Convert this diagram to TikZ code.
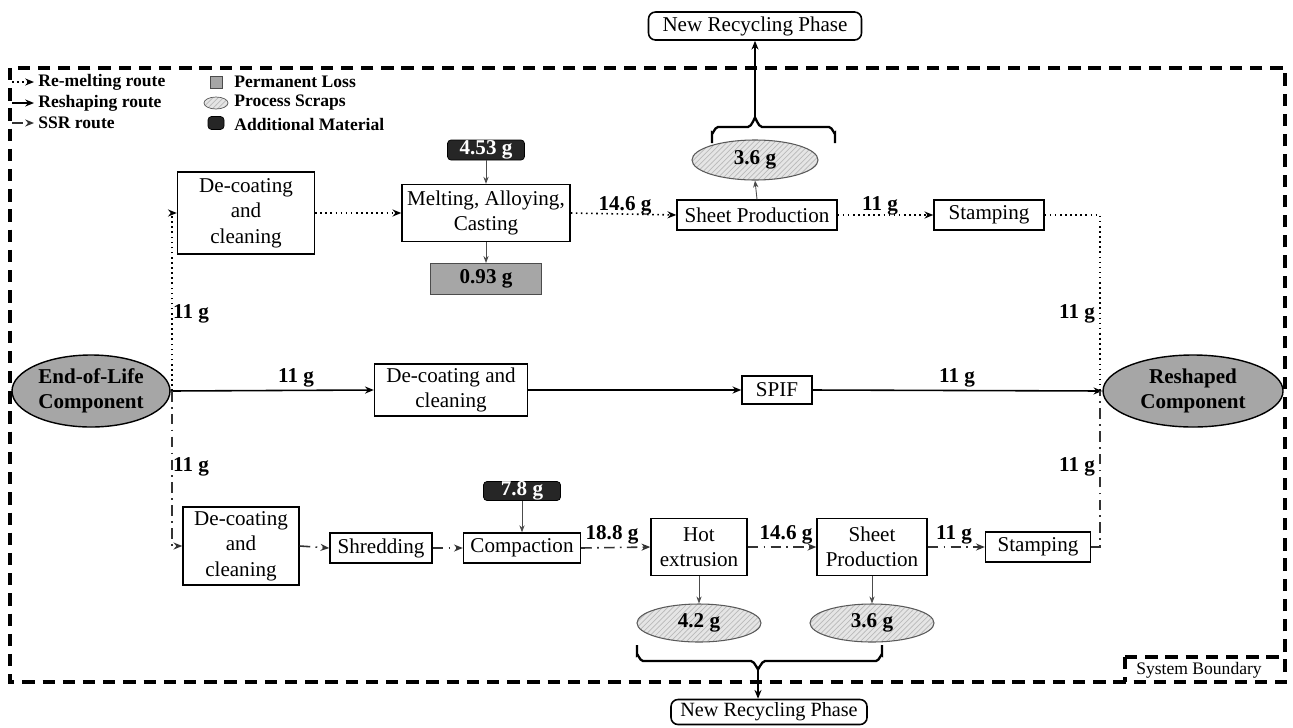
\documentclass[tikz,border=0pt]{standalone}
\usepackage{fontspec}
\setmainfont{Liberation Serif}
\usetikzlibrary{shapes.geometric,arrows.meta,patterns}
\newdimen\pxu \pxu=0.02cm
\begin{document}
\begin{tikzpicture}[x=0.02cm,y=-0.02cm,
  >={Stealth[length=5pt,width=4pt]},
  box/.style={draw, line width=0.8pt, fill=white, align=center, inner sep=1pt,
    font=\fontsize{12}{14.5}\selectfont},
  ends/.style={ellipse, draw, line width=0.8pt, fill=gray!70, align=center, inner sep=0pt,
    font=\bfseries\fontsize{12}{14.5}\selectfont, minimum width=158\pxu, minimum height=72\pxu},
  scrap/.style={ellipse, draw=gray!70!black, line width=0.6pt, preaction={fill=gray!20},
    pattern=north east lines, pattern color=gray!55, inner sep=0pt,
    font=\bfseries\fontsize{12}{14}\selectfont, minimum width=124\pxu, minimum height=38\pxu},
  addm/.style={draw=black, fill=black!85, rounded corners=2pt, text=white, inner sep=0pt,
    font=\bfseries\fontsize{12}{14}\selectfont, minimum width=77\pxu, minimum height=20\pxu},
  lossbox/.style={draw=gray!60!black, line width=0.6pt, fill=gray!70, inner sep=0pt,
    font=\bfseries\fontsize{12}{14}\selectfont, minimum width=111\pxu, minimum height=31\pxu},
  nrp/.style={draw, line width=0.9pt, rounded corners=4pt, fill=white, inner sep=0pt,
    font=\fontsize{12}{14}\selectfont},
  lbl/.style={font=\bfseries\fontsize{12}{14}\selectfont, inner sep=0pt},
  leg/.style={font=\bfseries\fontsize{10}{12}\selectfont, anchor=west, inner sep=0pt},
  remelt/.style={line width=0.9pt, dotted},
  reshape/.style={line width=0.9pt},
  ssr/.style={line width=0.9pt, draw=gray!40!black, dash pattern=on 6pt off 3pt on 1pt off 3pt},
  thin/.style={line width=0.5pt, draw=gray!60!black, -{Stealth[length=4pt,width=3pt]}},
  bound/.style={line width=1.8pt, dash pattern=on 7pt off 4.5pt}
]
\useasboundingbox (0,0) rectangle (1293,727);

% system boundary
\draw[bound] (10,68) rectangle (1285,682);
\draw[bound] (1125,657) -- (1285,657);
\draw[bound] (1125,657) -- (1125,682);
\node[font=\fontsize{10}{12}\selectfont, inner sep=0pt] (sbl) at (1199,670) {System Boundary};

% legend
\draw[remelt,->] (12,82) -- (34,82);
\node[leg] (l1) at (38,82) {Re-melting route};
\draw[reshape,->] (12,103) -- (34,103);
\node[leg] (l2) at (38,103) {Reshaping route};
\draw[ssr,->] (12,123) -- (34,123);
\node[leg] (l3) at (38,123) {SSR route};
\node[draw=gray!60!black, fill=gray!70, minimum size=12\pxu, inner sep=0pt] (lg1) at (216,82) {};
\node[leg] (l4) at (234,82) {Permanent Loss};
\node[ellipse, draw=gray!70!black, preaction={fill=gray!20}, pattern=north east lines, pattern color=gray!55,
  minimum width=24\pxu, minimum height=12\pxu, inner sep=0pt] (lg2) at (216,103) {};
\node[leg] (l5) at (234,103) {Process Scraps};
\node[draw, fill=black!85, rounded corners=2pt, minimum width=16\pxu, minimum height=13\pxu, inner sep=0pt] (lg3) at (216,123) {};
\node[leg] (l6) at (234,124) {Additional Material};

% end nodes
\node[ends] (eol) at (91,391) {End-of-Life\\Component};
\node[ends, minimum width=180\pxu] (rc) at (1193,391) {Reshaped\\Component};

% top row (re-melting)
\node[box, minimum width=137\pxu, minimum height=82\pxu] (dc1) at (246,213) {De-coating\\and\\cleaning};
\node[box, minimum width=168\pxu, minimum height=57\pxu] (melt) at (486,213) {Melting, Alloying,\\Casting};
\node[addm] (add1) at (486,150) {4.53 g};
\node[lossbox] (loss) at (486,279) {0.93 g};
\node[box, minimum width=160\pxu, minimum height=30\pxu] (sp1) at (757,215) {Sheet Production};
\node[scrap, minimum width=126\pxu, minimum height=40\pxu] (scr1) at (755,160) {3.6 g};
\node[box, minimum width=110\pxu, minimum height=30\pxu] (st1) at (989,215) {Stamping};
\node[nrp, minimum width=213\pxu, minimum height=28\pxu] (nrp1) at (755,26) {New Recycling Phase};

% middle row (reshaping)
\node[box, minimum width=153\pxu, minimum height=52\pxu] (dc2) at (451,390) {De-coating and\\cleaning};
\node[box, minimum width=70\pxu, minimum height=28\pxu] (spif) at (777,390) {SPIF};

% bottom row (SSR)
\node[box, minimum width=116\pxu, minimum height=78\pxu] (dc3) at (241,546) {De-coating\\and\\cleaning};
\node[box, minimum width=102\pxu, minimum height=30\pxu] (shred) at (381,548) {Shredding};
\node[box, minimum width=117\pxu, minimum height=30\pxu] (comp) at (522,548) {Compaction};
\node[addm, minimum height=19\pxu] (add2) at (522,491) {7.8 g};
\node[box, minimum width=96\pxu, minimum height=57\pxu] (hot) at (699,547) {Hot\\extrusion};
\node[box, minimum width=110\pxu, minimum height=57\pxu] (sp2) at (872,547) {Sheet\\Production};
\node[box, minimum width=105\pxu, minimum height=30\pxu] (st2) at (1038,547) {Stamping};
\node[scrap] (scr2) at (699,623) {4.2 g};
\node[scrap] (scr3) at (872,623) {3.6 g};
\node[nrp, minimum width=196\pxu, minimum height=25\pxu, font=\fontsize{11.5}{13}\selectfont] (nrp2) at (769,712) {New Recycling Phase};

% junctions
\coordinate (jl) at (172,391);
\coordinate (jr) at (1100,391);

% re-melting route
\draw[remelt,->] (jl) |- (dc1.west);
\draw[remelt,->] (dc1.east) -- (melt.west);
\draw[remelt,->] (melt.east) -- (sp1.west);
\draw[remelt,->] (sp1.east) -- (st1.west);
\draw[remelt] (st1.east) -| (jr);

% reshaping route
\draw[reshape,->] (eol.east) -- (dc2.west);
\draw[reshape,->] (dc2.east) -- (spif.west);
\draw[reshape,->] (spif.east) -- (rc.west);

% SSR route
\draw[ssr,->] (jl) |- (dc3.west);
\draw[ssr,->] (dc3.east) -- (shred.west);
\draw[ssr,->] (shred.east) -- (comp.west);
\draw[ssr,->] (comp.east) -- (hot.west);
\draw[ssr,->] (hot.east) -- (sp2.west);
\draw[ssr,->] (sp2.east) -- (st2.west);
\draw[ssr] (st2.east) -| (jr);

% thin flows
\draw[thin] (add1.south) -- (melt.north);
\draw[thin] (melt.south) -- (loss.north);
\draw[thin] (sp1.north) -- (scr1.south);
\draw[thin] (add2.south) -- (comp.north);
\draw[thin] (hot.south) -- (scr2.north);
\draw[thin] (sp2.south) -- (scr3.north);

% braces
\coordinate (bt) at (755,119);
\draw[line width=1.3pt] (712,143) -- (712,133) to[out=-90,in=180] (718,127) -- (748,127)
  to[out=0,in=90] (bt) to[out=90,in=180] (762,127) -- (829,127) to[out=0,in=-90] (835,133) -- (835,143);
\draw[line width=1.3pt,->] (bt) -- (nrp1.south);
\coordinate (bb) at (758,668);
\draw[line width=1.3pt] (637,645) -- (637,655) to[out=90,in=180] (643,661) -- (751,661)
  to[out=0,in=-90] (bb) to[out=-90,in=180] (765,661) -- (876,661) to[out=0,in=90] (882,655) -- (882,645);
\draw[line width=1.3pt,->] (bb) -- (nrp2.north -| bb);

% flow labels
\node[lbl] (t1) at (625,206) {14.6 g};
\node[lbl] (t2) at (880,206) {11 g};
\node[lbl] (b1) at (612,535) {18.8 g};
\node[lbl] (b2) at (786,535) {14.6 g};
\node[lbl] (b3) at (954,535) {11 g};
\node[lbl] (v1) at (191,314) {11 g};
\node[lbl] (v2) at (191,467) {11 g};
\node[lbl] (v3) at (1077,314) {11 g};
\node[lbl] (v4) at (1077,467) {11 g};
\node[lbl] (m1) at (296,378) {11 g};
\node[lbl] (m2) at (957,378) {11 g};
\end{tikzpicture}
\end{document}
